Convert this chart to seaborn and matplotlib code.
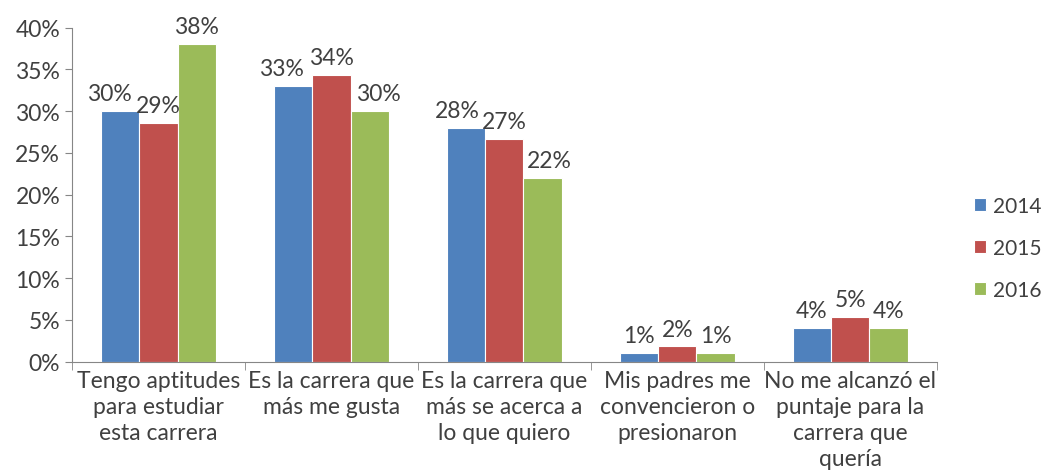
import pandas as pd
import matplotlib.pyplot as plt
import seaborn as sns
from matplotlib.ticker import PercentFormatter

# data
categories = ["Tengo aptitudes\npara estudiar\nesta carrera",
              "Es la carrera que\nmás me gusta",
              "Es la carrera que\nmás se acerca a\nlo que quiero",
              "Mis padres me\nconvencieron o\npresionaron",
              "No me alcanzó el\npuntaje para la\ncarrera que\nquería"]
years = ["2014", "2015", "2016"]
v2014 = [30, 33, 28, 1, 4]
v2015 = [28.6, 34.3, 26.7, 1.8, 5.3]
v2016 = [38, 30, 22, 1, 4]
labels2015 = ["29%", "34%", "27%", "2%", "5%"]

rows = []
for i, c in enumerate(categories):
    rows.append((c, "2014", v2014[i], f"{v2014[i]:.0f}%"))
    rows.append((c, "2015", v2015[i], labels2015[i]))
    rows.append((c, "2016", v2016[i], f"{v2016[i]:.0f}%"))
df = pd.DataFrame(rows, columns=["cat", "year", "val", "lab"])

sns.set_style("white")
plt.rcParams['font.family'] = ['Lato', 'DejaVu Sans']
txt = "#404040"
fs = 16.5

fig, ax = plt.subplots(figsize=(10.43, 4.77), dpi=100)
colors = ["#4f81bd", "#c0504d", "#9bbb59"]
sns.barplot(data=df, x="cat", y="val", hue="year", palette=colors, width=0.665,
            saturation=1, edgecolor="white", linewidth=0.8, ax=ax)

# labels nudged sideways where they would collide (like excel does)
nudge = {"2014": [-8, -8, -6, 0, 0], "2015": [0, 0, 0, 0, 0], "2016": [0, 6, 5, 0, 0]}
for cont, yr in zip(ax.containers, years):
    labs = list(df[df.year == yr]["lab"])
    anns = ax.bar_label(cont, labels=labs, padding=5, fontsize=fs, color=txt)
    for a, dx in zip(anns, nudge[yr]):
        a.xyann = (dx, 5)

ax.set_ylim(0, 40)
ax.set_yticks(range(0, 41, 5))
ax.yaxis.set_major_formatter(PercentFormatter(decimals=0))
ax.set_xlim(-0.5, 4.5)
ax.set_xlabel("")
ax.set_ylabel("")
ax.tick_params(axis="both", labelsize=fs, labelcolor=txt, colors="#868686")
ax.tick_params(axis="y", direction="out", length=5, left=True)
for t in ax.get_xticklabels():
    t.set_linespacing(1.3)
# ticks on x sit between categories
ax.set_xticks([i + 0.5 for i in range(-1, 5)], minor=True)
ax.tick_params(axis="x", which="major", length=0, pad=6)
ax.tick_params(axis="x", which="minor", length=6, bottom=True, direction="out", color="#868686")
for s in ["top", "right"]:
    ax.spines[s].set_visible(False)
for s in ["left", "bottom"]:
    ax.spines[s].set_color("#868686")

ax.legend(loc="center left", bbox_to_anchor=(1.043, 0.34), frameon=False, fontsize=15,
          borderaxespad=0, borderpad=0,
          handlelength=0.6, handleheight=0.6, handletextpad=0.3, labelspacing=1.05,
          labelcolor=txt)

plt.subplots_adjust(left=0.069, right=0.898, top=0.94, bottom=0.24)
plt.savefig("out.png")
